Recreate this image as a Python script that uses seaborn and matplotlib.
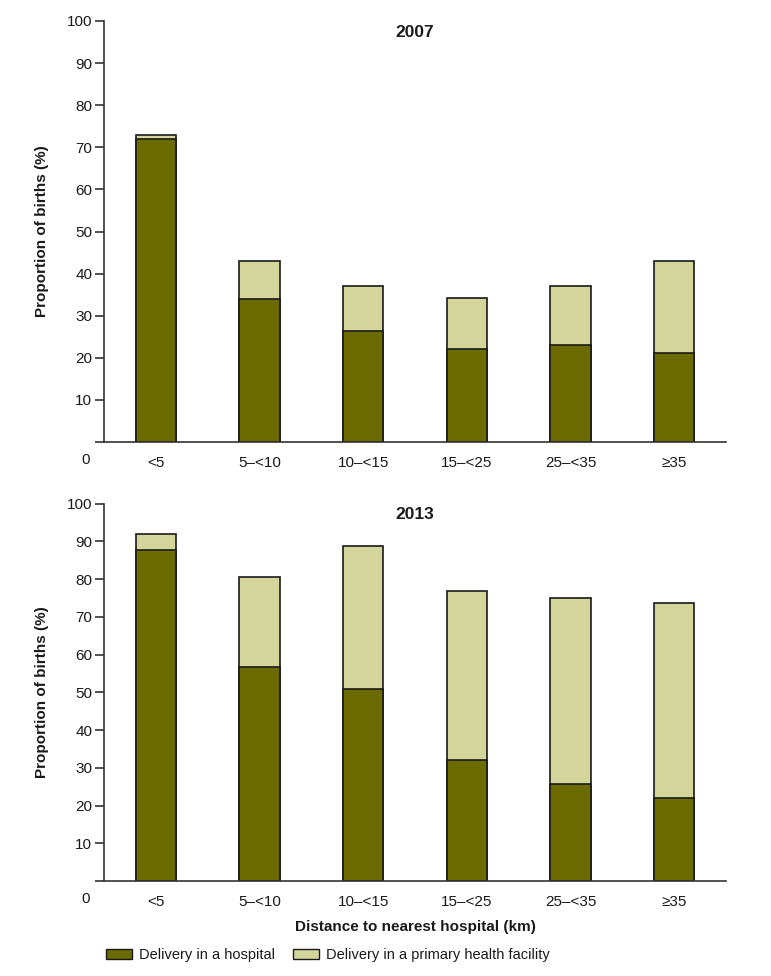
import matplotlib
matplotlib.use("Agg")
import matplotlib.pyplot as plt
import seaborn as sns
import pandas as pd
from matplotlib.patches import Patch

categories = ["<5", "5\u2013<10", "10\u2013<15", "15\u2013<25", "25\u2013<35", "\u226535"]
hospital_2007 = [72, 34, 26.3, 22.1, 23.1, 21.2]
total_2007 = [73, 43.1, 37, 34.2, 37, 43]
hospital_2013 = [87.8, 56.7, 51, 32.1, 25.7, 21.9]
total_2013 = [91.9, 80.7, 88.9, 76.9, 75.1, 73.8]
years = ["2007", "2013"]
y_ticks = [0, 10, 20, 30, 40, 50, 60, 70, 80, 90, 100]
legend_labels = ["Delivery in a hospital", "Delivery in a primary health facility"]

DARK = "#6b6b00"
LIGHT = "#d3d59b"
AX_COL = "#333333"
TXT = "#1a1a1a"

sns.set_style("white")
plt.rcParams["font.family"] = ["Liberation Sans", "DejaVu Sans"]

fig = plt.figure(figsize=(7.71, 9.76), dpi=100)
ax1 = fig.add_axes([0.1349, 0.5471, 0.8067, 0.4314])
ax2 = fig.add_axes([0.1349, 0.0973, 0.8067, 0.3866])

for ax, year, hosp, tot in [(ax1, years[0], hospital_2007, total_2007),
                            (ax2, years[1], hospital_2013, total_2013)]:
    df = pd.DataFrame({"cat": categories, "hospital": hosp, "total": tot})
    sns.barplot(data=df, x="cat", y="total", order=categories, color=LIGHT,
                saturation=1, edgecolor="#1a1a1a", linewidth=1.2, width=0.39, ax=ax)
    sns.barplot(data=df, x="cat", y="hospital", order=categories, color=DARK,
                saturation=1, edgecolor="#1a1a1a", linewidth=1.2, width=0.39, ax=ax)
    ax.set_xlim(-0.5, len(categories) - 0.5)
    ax.set_ylim(0, 100)
    ax.set_yticks(y_ticks)
    ax.set_yticklabels(["" if v == 0 else str(v) for v in y_ticks], fontsize=11, color=TXT)
    ax.set_xticks(range(len(categories)))
    ax.set_xticklabels(categories, fontsize=11, color=TXT)
    ax.set_xticks([i - 0.5 for i in range(len(categories) + 1)], minor=True)
    ax.tick_params(axis="x", which="major", length=0, pad=10)
    ax.tick_params(axis="x", which="minor", length=6.5, width=1.2, color=AX_COL, direction="out")
    ax.tick_params(axis="y", which="major", length=6.5, width=1.2, color=AX_COL, direction="out", pad=2, left=True)
    for s in ["top", "right"]:
        ax.spines[s].set_visible(False)
    for s in ["left", "bottom"]:
        ax.spines[s].set_color(AX_COL)
        ax.spines[s].set_linewidth(1.2)
    ax.set_ylabel("Proportion of births (%)", fontsize=11, fontweight="bold", labelpad=13, color=TXT)
    ax.set_xlabel("")
    ax.text(0.5, 0.99, year, transform=ax.transAxes, ha="center", va="top",
            fontsize=12.5, fontweight="bold", color=TXT)
    ax.annotate("0", xy=(0, 0), xycoords="axes fraction", xytext=(-13, -13),
                textcoords="offset points", ha="center", va="center", fontsize=11, color=TXT)

ax2.set_xlabel("Distance to nearest hospital (km)", fontsize=11, fontweight="bold", labelpad=8, color=TXT)

handles = [Patch(facecolor=DARK, edgecolor="#1a1a1a", linewidth=1),
           Patch(facecolor=LIGHT, edgecolor="#1a1a1a", linewidth=1)]
fig.legend(handles, legend_labels, loc="center", bbox_to_anchor=(0.425, 0.0215), ncol=2,
           frameon=False, fontsize=10.5, handlelength=1.8, handleheight=0.7,
           handletextpad=0.5, columnspacing=1.2, labelcolor=TXT)

fig.savefig("out.png", dpi=100)
